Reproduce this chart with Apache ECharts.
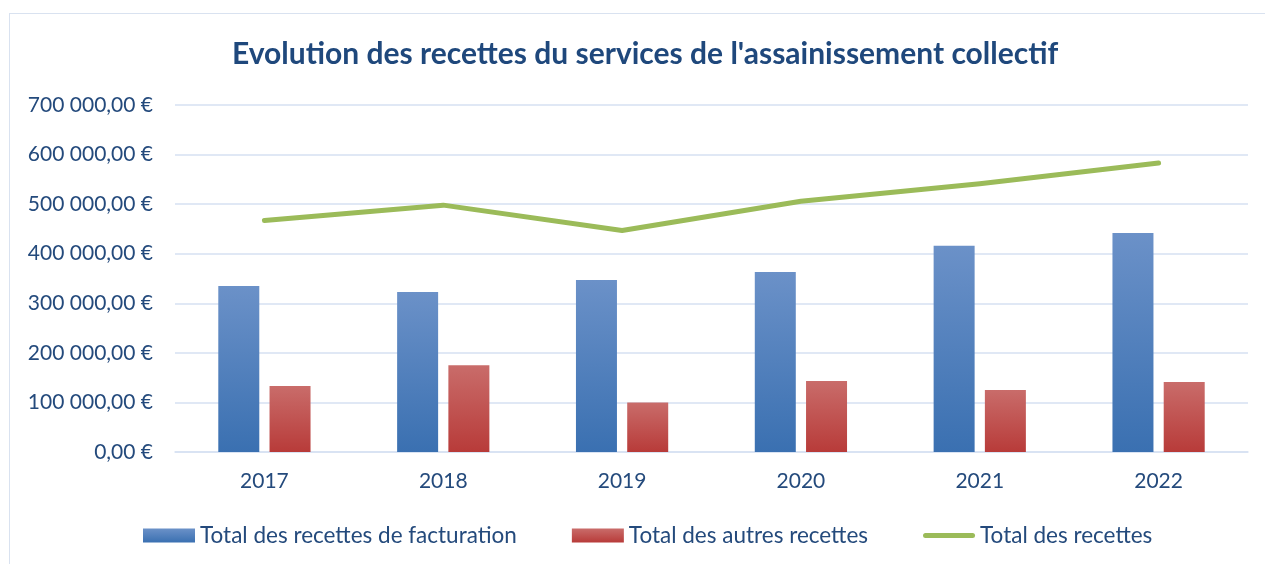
<!DOCTYPE html>
<html>
<head>
<meta charset="utf-8">
<script src="https://cdn.jsdelivr.net/npm/echarts@6/dist/echarts.min.js"></script>
<style>
html, body { margin: 0; padding: 0; background: #fff; }
#wrap { position: relative; width: 1265px; height: 564px; overflow: hidden; }
#frame { position: absolute; left: 9px; top: 13px; width: 1400px; height: 700px; border: 1px solid #D9E2F0; }
#chart { position: absolute; left: 0; top: 0; width: 1265px; height: 564px; }
</style>
</head>
<body>
<div id="wrap">
    <div id="frame"></div>
    <div id="chart"></div>
</div>
<script>
const years = ['2017', '2018', '2019', '2020', '2021', '2022']
const facturation = [335000, 323000, 347000, 363000, 416000, 442000]
const autres = [133000, 175000, 100000, 143000, 125000, 141000]
const total = [467000, 498000, 447000, 506000, 541000, 583000]

const textColor = '#244A7C'
const gridColor = '#D6E1F2'

function euro(v) {
    return String(Math.round(v)).replace(/\B(?=(\d{3})+(?!\d))/g, ' ') + ',00 €'
}

function grad(top, bottom) {
    return new echarts.graphic.LinearGradient(0, 0, 0, 1, [
        { offset: 0, color: top },
        { offset: 1, color: bottom }
    ])
}

let chart = echarts.init(document.getElementById('chart'))

let option = {
    animation: false,
    textStyle: { fontFamily: 'Lato' },
    title: {
        text: "Evolution des recettes du services de l'assainissement collectif",
        left: 227,
        top: 34,
        textStyle: {
            fontFamily: 'Lato',
            fontSize: 30,
            fontWeight: 'bold',
            color: '#1F487C'
        }
    },
    grid: {
        left: 175,
        right: 17,
        top: 105,
        bottom: 112
    },
    legend: {
        bottom: 12,
        left: 138,
        itemWidth: 52,
        itemHeight: 14,
        itemGap: 55,
        textStyle: { fontSize: 22.5, color: textColor },
        data: [
            { name: 'Total des recettes de facturation', icon: 'rect' },
            { name: 'Total des autres recettes', icon: 'rect' },
            {
                name: 'Total des recettes',
                icon: 'path://M2.5 0H49.5A2.5 2.5 0 0 1 49.5 5H2.5A2.5 2.5 0 0 1 2.5 0Z'
            }
        ]
    },
    xAxis: {
        type: 'category',
        data: years,
        axisTick: { show: false },
        axisLine: { lineStyle: { color: gridColor, width: 1.5 } },
        axisLabel: { fontSize: 21, color: textColor, margin: 19 }
    },
    yAxis: {
        type: 'value',
        min: 0,
        max: 700000,
        interval: 100000,
        axisLine: { show: false },
        axisTick: { show: false },
        splitLine: { lineStyle: { color: gridColor, width: 1.5 } },
        axisLabel: {
            fontSize: 21,
            color: textColor,
            margin: 22,
            formatter: euro
        }
    },
    series: [
        {
            name: 'Total des recettes de facturation',
            type: 'bar',
            data: facturation,
            barWidth: 41,
            barGap: '25%',
            itemStyle: { color: grad('#6B91C8', '#3A70B1') }
        },
        {
            name: 'Total des autres recettes',
            type: 'bar',
            data: autres,
            barWidth: 41,
            itemStyle: { color: grad('#C96C6A', '#B83B39') }
        },
        {
            name: 'Total des recettes',
            type: 'line',
            data: total,
            symbol: 'none',
            itemStyle: { color: '#9BBB59' },
            lineStyle: { color: '#9BBB59', width: 5, cap: 'round', join: 'round' }
        }
    ]
}
chart.setOption(option)
</script>
</body>
</html>
